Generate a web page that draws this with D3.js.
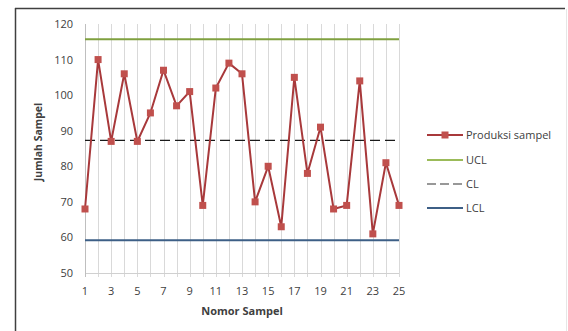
<!DOCTYPE html>
<html>
<head>
<meta charset="utf-8">
<script src="https://cdn.jsdelivr.net/npm/d3@7"></script>
<style>
  body { margin: 0; background: #fff; }
  svg { font-family: "Open Sans", sans-serif; }
</style>
</head>
<body>
<div id="chart"></div>
<script>
var samples = [1,2,3,4,5,6,7,8,9,10,11,12,13,14,15,16,17,18,19,20,21,22,23,24,25];
var produksi = [68,110,87,106,87,95,107,97,101,69,102,109,106,70,80,63,105,78,91,68,69,104,61,81,69];
var ucl = 115.7, cl = 87.3, lcl = 59.2;
var yTicks = [50,60,70,80,90,100,110,120];
var xTicks = [1,3,5,7,9,11,13,15,17,19,21,23,25];
var legendItems = ["Produksi sampel", "UCL", "CL", "LCL"];

var width = 568, height = 331;
var svg = d3.select("#chart").append("svg")
    .attr("width", width)
    .attr("height", height);

// outer frame
svg.append("line").attr("x1", 15.5).attr("x2", 15.5).attr("y1", 8).attr("y2", height)
    .style("stroke", "#404040").style("stroke-width", 1.5);
svg.append("line").attr("x1", 15).attr("x2", 565).attr("y1", 8.5).attr("y2", 8.5)
    .style("stroke", "#404040").style("stroke-width", 1.5);
svg.append("line").attr("x1", 566.5).attr("x2", 566.5).attr("y1", 9).attr("y2", height)
    .style("stroke", "#e6e6e6").style("stroke-width", 1);

var x = d3.scaleLinear().domain([1, 25]).range([85, 399]);
var y = d3.scaleLinear().domain([50, 120]).range([273, 24]);

// vertical gridlines incl. tick marks
svg.selectAll(".vgrid")
    .data(samples)
    .enter().append("line")
    .attr("x1", function(d) { return Math.round(x(d)) + 0.5; })
    .attr("x2", function(d) { return Math.round(x(d)) + 0.5; })
    .attr("y1", y(120))
    .attr("y2", y(50) + 4)
    .style("stroke", "#d9d9d9")
    .style("stroke-width", 1);

// axes lines
svg.append("line").attr("x1", 85).attr("x2", 399).attr("y1", 273.5).attr("y2", 273.5)
    .style("stroke", "#d0d0d0");
svg.append("line").attr("x1", 85.5).attr("x2", 85.5).attr("y1", 24).attr("y2", 277)
    .style("stroke", "#bfbfbf");

// y tick labels
svg.selectAll(".ylab")
    .data(yTicks)
    .enter().append("text")
    .attr("x", 73)
    .attr("y", function(d) { return y(d) + 4; })
    .attr("text-anchor", "end")
    .style("font-size", "11px")
    .style("fill", "#404040")
    .text(function(d) { return d; });

// x tick labels
svg.selectAll(".xlab")
    .data(xTicks)
    .enter().append("text")
    .attr("x", function(d) { return x(d); })
    .attr("y", 295)
    .attr("text-anchor", "middle")
    .style("font-size", "11px")
    .style("fill", "#404040")
    .text(function(d) { return d; });

// axis titles
svg.append("text")
    .attr("x", 242).attr("y", 315)
    .attr("text-anchor", "middle")
    .style("font-size", "11px").style("font-weight", "bold").style("fill", "#404040")
    .text("Nomor Sampel");
svg.append("text")
    .attr("transform", "translate(42,142) rotate(-90)")
    .attr("text-anchor", "middle")
    .style("font-size", "10.5px").style("font-weight", "bold").style("fill", "#404040")
    .text("Jumlah Sampel");

// control lines
var limits = [
  {v: ucl, color: "#7fa03f", dash: null},
  {v: cl, color: "#1a1a1a", dash: "10,5"},
  {v: lcl, color: "#3d5f86", dash: null}
];
svg.selectAll(".limit")
    .data(limits)
    .enter().append("line")
    .attr("x1", x(1)).attr("x2", x(25))
    .attr("y1", function(d) { return y(d.v); })
    .attr("y2", function(d) { return y(d.v); })
    .style("stroke", function(d) { return d.color; })
    .style("stroke-width", function(d) { return d.dash ? 1.2 : 2; })
    .style("stroke-dasharray", function(d) { return d.dash; });

// series
var line = d3.line()
    .x(function(d, i) { return x(samples[i]); })
    .y(function(d) { return y(d); });
svg.append("path")
    .datum(produksi)
    .attr("d", line)
    .style("fill", "none")
    .style("stroke", "#a8393b")
    .style("stroke-width", 2);
svg.selectAll(".pt")
    .data(produksi)
    .enter().append("rect")
    .attr("x", function(d, i) { return x(samples[i]) - 3.5; })
    .attr("y", function(d) { return y(d) - 3.5; })
    .attr("width", 7).attr("height", 7)
    .style("fill", "#c0504d");

// legend
var lg = svg.append("g");
var rowY = [135, 160, 184, 208];
var legStyle = [
  {color: "#a8393b", dash: null, w: 2, marker: true},
  {color: "#9bbb59", dash: null, w: 2, marker: false},
  {color: "#333", dash: "9,4", w: 1.2, marker: false},
  {color: "#3d5f86", dash: null, w: 2, marker: false}
];
legendItems.forEach(function(name, i) {
  var s = legStyle[i];
  lg.append("line")
    .attr("x1", 427).attr("x2", 463)
    .attr("y1", rowY[i]).attr("y2", rowY[i])
    .style("stroke", s.color).style("stroke-width", s.w)
    .style("stroke-dasharray", s.dash);
  if (s.marker) {
    lg.append("rect").attr("x", 441.5).attr("y", rowY[i] - 3.5)
      .attr("width", 7).attr("height", 7).style("fill", "#c0504d");
  }
  lg.append("text")
    .attr("x", 466).attr("y", rowY[i] + 4)
    .style("font-size", "11px").style("fill", "#404040")
    .text(name);
});
</script>
</body>
</html>
